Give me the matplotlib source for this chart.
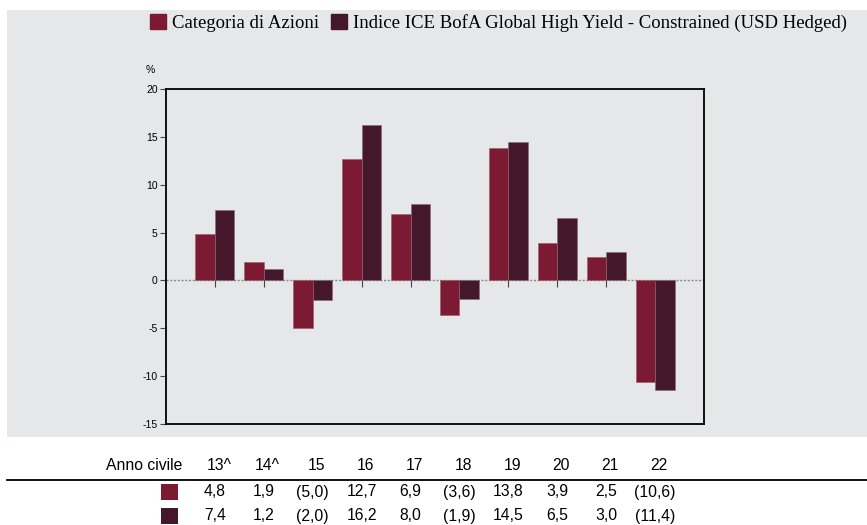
import numpy as np
import matplotlib.pyplot as plt
from matplotlib.patches import Rectangle
from matplotlib.lines import Line2D
from matplotlib.transforms import blended_transform_factory

plt.rcParams['axes.unicode_minus'] = False
plt.rcParams['font.family'] = ['Liberation Sans', 'DejaVu Sans']

years = ['13^', '14^', '15', '16', '17', '18', '19', '20', '21', '22']
categoria = [4.8, 1.9, -5.0, 12.7, 6.9, -3.6, 13.8, 3.9, 2.5, -10.6]
indice = [7.4, 1.2, -2.0, 16.2, 8.0, -1.9, 14.5, 6.5, 3.0, -11.4]
cat_labels = ['4,8', '1,9', '(5,0)', '12,7', '6,9', '(3,6)', '13,8', '3,9', '2,5', '(10,6)']
idx_labels = ['7,4', '1,2', '(2,0)', '16,2', '8,0', '(1,9)', '14,5', '6,5', '3,0', '(11,4)']
names = ['Categoria di Azioni', 'Indice ICE BofA Global High Yield - Constrained (USD Hedged)']

c_red = '#7c1a33'
c_dark = '#45172a'
bg = '#e6e7e8'

fig = plt.figure(figsize=(8.67, 5.25), dpi=100)
fig.patch.set_facecolor('white')

# grey panel behind the chart
fig.patches.append(Rectangle((7 / 867, 1 - 437 / 525), 1 - 7 / 867, 427 / 525,
                             transform=fig.transFigure, facecolor=bg, edgecolor='none', zorder=-5))

ax = fig.add_axes([166 / 867, 1 - 424 / 525, 538 / 867, 335 / 525])
ax.set_facecolor(bg)
x = np.arange(len(years))
w = 0.4
ax.bar(x - w / 2, categoria, w, color=c_red, edgecolor='#9a5a6a', linewidth=0.4, zorder=2)
ax.bar(x + w / 2, indice, w, color=c_dark, edgecolor='#8a6a75', linewidth=0.4, zorder=2)

ax.set_xlim(-1, 10)
ax.set_ylim(-15, 20)
ax.set_yticks([-15, -10, -5, 0, 5, 10, 15, 20])
ax.tick_params(axis='y', labelsize=7.5, length=4, width=0.8, color='#444444', pad=2)
ax.set_xticks(x)
ax.set_xticklabels([])
ax.tick_params(axis='x', length=5, width=0.8, color='#444444', direction='out')

# x ticks hang from the zero line; dotted zero line drawn separately
ax.spines['bottom'].set_position(('data', 0))
ax.spines['bottom'].set_visible(False)
ax.axhline(0, color='#8a8a8a', lw=1.0, linestyle=(0, (1.5, 1.2)), zorder=1)
for s in ['left', 'right', 'top']:
    ax.spines[s].set_linewidth(1.3)
    ax.spines[s].set_color('black')
ax.plot([0, 1], [0, 0], transform=ax.transAxes, color='black', lw=1.3, clip_on=False, zorder=5)

fig.text(150 / 867, 1 - 70 / 525, '%', fontsize=7.5, ha='center', va='center')

# legend
handles = [Rectangle((0, 0), 1, 1, color=c_red), Rectangle((0, 0), 1, 1, color=c_dark)]
fig.legend(handles, names, loc='center left', bbox_to_anchor=(150 / 867, 1 - 23 / 525),
           ncol=2, frameon=False, prop={'family': 'Liberation Serif', 'size': 13.5},
           handlelength=0.85, handleheight=0.85, handletextpad=0.35, columnspacing=0.6,
           borderpad=0, borderaxespad=0)

# table below the chart
tr = blended_transform_factory(ax.transData, fig.transFigure)
tkw = dict(fontsize=11.3, va='center')
fig.text(182 / 867, 1 - 465 / 525, 'Anno civile', ha='right', **tkw)
for i in range(len(years)):
    fig.text(x[i] + 0.08, 1 - 465 / 525, years[i], ha='center', transform=tr, **tkw)
    fig.text(x[i], 1 - 492 / 525, cat_labels[i], ha='center', transform=tr, **tkw)
    fig.text(x[i], 1 - 516 / 525, idx_labels[i], ha='center', transform=tr, **tkw)

fig.lines.append(Line2D([7 / 867, 1], [1 - 480 / 525, 1 - 480 / 525], transform=fig.transFigure,
                        color='black', lw=1.3))
fig.patches.append(Rectangle((161 / 867, 1 - 500 / 525), 17 / 867, 16 / 525,
                             transform=fig.transFigure, facecolor=c_red, edgecolor='none'))
fig.patches.append(Rectangle((161 / 867, 1 - 524 / 525), 17 / 867, 16 / 525,
                             transform=fig.transFigure, facecolor=c_dark, edgecolor='none'))

fig.savefig('out.png', dpi=100, facecolor='white')
